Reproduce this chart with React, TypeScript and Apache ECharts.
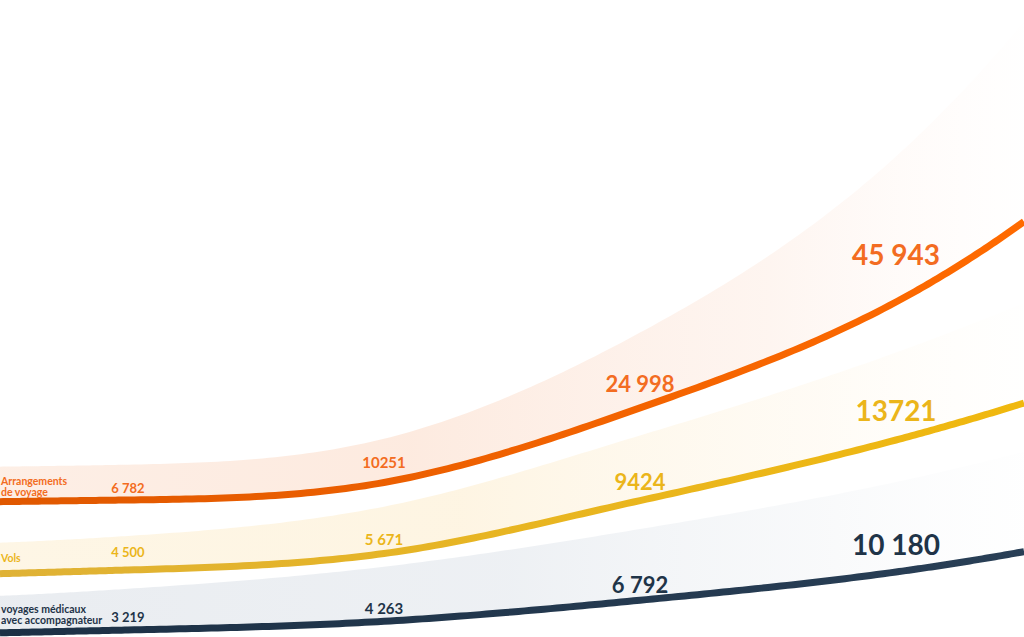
import React, { useEffect, useRef } from "react";
import * as echarts from "echarts";

// ---- data ----
const periods = ["1", "2", "3", "4"];
const seriesNames = ["Arrangements\nde voyage", "Vols", "voyages médicaux\navec accompagnateur"];
const arrangements = [6782, 10251, 24998, 45943];
const vols = [4500, 5671, 9424, 13721];
const medical = [3219, 4263, 6792, 10180];
const arrangementsLabels = ["6 782", "10251", "24 998", "45 943"];
const volsLabels = ["4 500", "5 671", "9424", "13721"];
const medicalLabels = ["3 219", "4 263", "6 792", "10 180"];

// ---- styles / layout ----
const FONT = "Lato, 'Open Sans', sans-serif";
const W = 1024;
const H = 637;

type Cfg = {
  anchorA: number;
  anchorB: number;
  axisMin: number;
  axisMax: number;
  lineFrom: string;
  lineTo: string;
  text: string;
  bandStops: [number, string][];
  band: { hL: number; hR: number; p: number };
  offsets: number[];
  sizes: number[];
  nameOffset: number;
};

const cfgs: Cfg[] = [
  {
    anchorA: 500, anchorB: 302, axisMin: 0, axisMax: 50000,
    lineFrom: "#e05800", lineTo: "#ff6a00", text: "#f36c21",
    bandStops: [[0, "rgba(251,222,204,0.5)"], [0.4, "rgba(251,214,192,0.5)"], [0.75, "rgba(252,226,212,0.35)"], [1, "rgba(255,240,232,0.03)"]],
    band: { hL: 35, hR: 200, p: 3 },
    offsets: [12, 20, 24, 48], sizes: [13, 15, 22, 28], nameOffset: 15,
  },
  {
    anchorA: 570, anchorB: 440, axisMin: 3000, axisMax: 15000,
    lineFrom: "#dfb236", lineTo: "#f0b80e", text: "#ebb51a",
    bandStops: [[0, "rgba(253,240,212,0.6)"], [0.45, "rgba(253,238,208,0.6)"], [0.8, "rgba(254,244,226,0.35)"], [1, "rgba(255,250,240,0.05)"]],
    band: { hL: 31, hR: 100, p: 1.5 },
    offsets: [18, 14, 19, 30], sizes: [13, 15, 22, 28], nameOffset: 16,
  },
  {
    anchorA: 630, anchorB: 572, axisMin: 3000, axisMax: 11000,
    lineFrom: "#1c3045", lineTo: "#293f56", text: "#1f3448",
    bandStops: [[0, "rgba(228,232,237,0.8)"], [0.5, "rgba(230,234,239,0.7)"], [0.8, "rgba(238,241,244,0.4)"], [1, "rgba(248,249,250,0.1)"]],
    band: { hL: 37, hR: 100, p: 1.3 },
    offsets: [13, 13, 16, 28], sizes: [13, 15, 22, 28], nameOffset: 18,
  },
];

const allValues = [arrangements, vols, medical];
const allLabels = [arrangementsLabels, volsLabels, medicalLabels];

function gridFor(vA: number, vB: number, yA: number, yB: number, min: number, max: number) {
  const k = (yA - yB) / (vB - vA);
  const yMin = yA + (vA - min) * k;
  const yMax = yA - (max - vA) * k;
  return { left: 0, width: W, top: yMax, height: yMin - yMax, outerBoundsMode: "none" };
}

function hermite(x0: number, y0: number, m0: number, x1: number, y1: number, m1: number, out: number[][], skipFirst: boolean) {
  const hh = x1 - x0;
  const steps = 40;
  for (let k = skipFirst ? 1 : 0; k <= steps; k++) {
    const u = k / steps;
    const u2 = u * u, u3 = u2 * u;
    const y =
      (2 * u3 - 3 * u2 + 1) * y0 +
      (u3 - 2 * u2 + u) * hh * m0 +
      (-2 * u3 + 3 * u2) * y1 +
      (u3 - u2) * hh * m1;
    out.push([x0 + u * hh, y]);
  }
}

function makeRender(values: number[], labels: string[], name: string, cfg: Cfg) {
  return (params: any, api: any) => {
    if (params.dataIndex !== 0) return null;
    const cs = params.coordSys;
    const pts: number[][] = values.map((v, i) => api.coord([i, v]));
    const n = pts.length;
    const h = pts[1][0] - pts[0][0];
    const xL = cs.x;
    const xR = cs.x + cs.width;
    const s: number[] = [];
    for (let i = 0; i < n - 1; i++) s.push((pts[i + 1][1] - pts[i][1]) / h);
    const m: number[] = new Array(n).fill(0);
    for (let i = 1; i < n - 1; i++) {
      if (s[i - 1] * s[i] <= 0) continue;
      const avg = (s[i - 1] + s[i]) / 2;
      const lim = 3 * Math.min(Math.abs(s[i - 1]), Math.abs(s[i]));
      m[i] = Math.sign(avg) * Math.min(Math.abs(avg), lim);
    }
    m[0] = (3 * s[0] - m[1]) / 2;
    if (m[0] * s[0] < 0) m[0] = 0;
    m[n - 1] = 3 * s[n - 2] - 2 * m[n - 2];
    if (m[n - 1] * s[n - 2] < 0) m[n - 1] = s[n - 2];
    const curvEnd = (4 * m[n - 1] + 2 * m[n - 2] - 6 * s[n - 2]) / h;
    const dxR = xR - pts[n - 1][0];
    const yR = pts[n - 1][1] + m[n - 1] * dxR + 0.5 * curvEnd * dxR * dxR;
    const mR = m[n - 1] + curvEnd * dxR;
    const yL = pts[0][1] + (xL - pts[0][0]) * m[0];

    const samples: number[][] = [];
    hermite(xL, yL, m[0], pts[0][0], pts[0][1], m[0], samples, false);
    for (let i = 0; i < n - 1; i++) {
      hermite(pts[i][0], pts[i][1], m[i], pts[i + 1][0], pts[i + 1][1], m[i + 1], samples, true);
    }
    hermite(pts[n - 1][0], pts[n - 1][1], m[n - 1], xR, yR, mR, samples, true);

    const b = cfg.band;
    const top = samples.map(([x, y]) => [x, y - (b.hL + (b.hR - b.hL) * Math.pow((x - xL) / (xR - xL), b.p))]);
    const poly = top.concat(samples.slice().reverse());

    const children: any[] = [
      {
        type: "polygon",
        shape: { points: poly },
        style: { fill: new echarts.graphic.LinearGradient(0, 0, 1, 0, cfg.bandStops.map(([o, col]) => ({ offset: o, color: col }))) },
      },
      {
        type: "polyline",
        shape: { points: samples },
        style: {
          fill: "none",
          stroke: new echarts.graphic.LinearGradient(0, 0, 1, 0, [
            { offset: 0, color: cfg.lineFrom },
            { offset: 1, color: cfg.lineTo },
          ]),
          lineWidth: 7,
          lineCap: "butt",
        },
      },
    ];
    pts.forEach((p, i) => {
      children.push({
        type: "text",
        x: p[0],
        y: p[1] - cfg.offsets[i],
        style: {
          text: labels[i],
          fill: cfg.text,
          font: `bold ${cfg.sizes[i]}px ${FONT}`,
          align: "center",
          verticalAlign: "middle",
        },
      });
    });
    children.push({
      type: "text",
      x: xL + 1,
      y: yL - cfg.nameOffset,
      style: {
        text: name,
        fill: cfg.text,
        font: `bold 10.5px ${FONT}`,
        lineHeight: 11,
        align: "left",
        verticalAlign: "middle",
      },
    });
    return { type: "group", children };
  };
}

export default function App() {
  const ref = useRef<HTMLDivElement>(null);
  useEffect(() => {
    if (!ref.current) return;
    const chart = echarts.init(ref.current, undefined, { renderer: "svg" });
    const grids = allValues.map((vals, i) =>
      gridFor(vals[0], vals[vals.length - 1], cfgs[i].anchorA, cfgs[i].anchorB, cfgs[i].axisMin, cfgs[i].axisMax)
    );
    chart.setOption({
      animation: false,
      backgroundColor: "#ffffff",
      grid: grids,
      xAxis: grids.map((_, i) => ({
        type: "category",
        gridIndex: i,
        data: periods,
        boundaryGap: true,
        show: false,
      })),
      yAxis: grids.map((_, i) => ({
        type: "value",
        gridIndex: i,
        min: cfgs[i].axisMin,
        max: cfgs[i].axisMax,
        show: false,
        splitLine: { show: false },
      })),
      series: allValues.map((vals, i) => ({
        type: "custom",
        name: seriesNames[i],
        xAxisIndex: i,
        yAxisIndex: i,
        data: vals.map((v, j) => [j, v]),
        encode: { x: 0, y: 1 },
        clip: false,
        renderItem: makeRender(vals, allLabels[i], seriesNames[i], cfgs[i]),
        z: 2 + i,
      })),
    });
    return () => chart.dispose();
  }, []);
  return (
    <div
      ref={ref}
      style={{ position: "absolute", left: 0, top: 0, width: W, height: H }}
    />
  );
}
